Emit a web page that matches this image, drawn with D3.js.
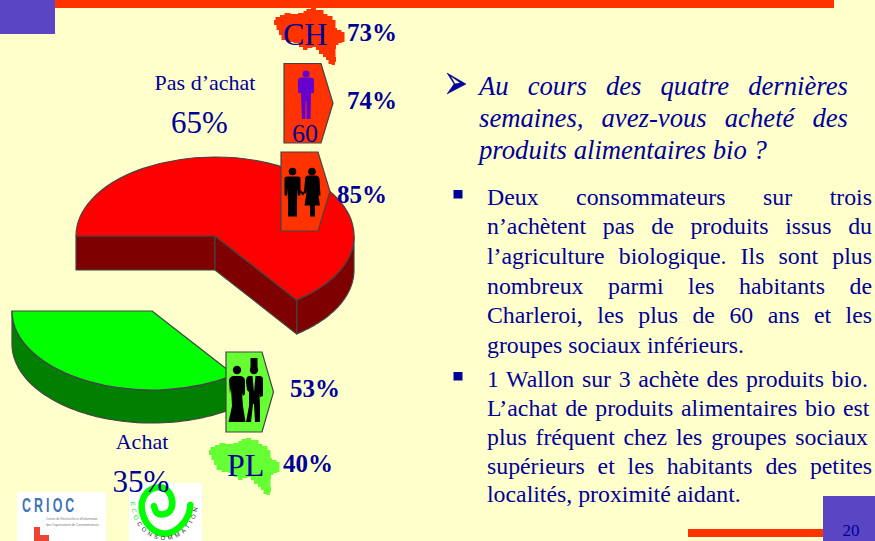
<!DOCTYPE html>
<html><head><meta charset="utf-8">
<script src="https://cdn.jsdelivr.net/npm/d3@7/dist/d3.min.js"></script>
<style>html,body{margin:0;padding:0;background:#FFFFCC;overflow:hidden}svg{display:block}text{font-family:"Liberation Serif",serif}</style>
</head><body>
<svg id="c" width="875" height="541"></svg>
<script>
// --- data ---
const sliceLabels = ["Pas d\u2019achat", "Achat"];
const sliceValues = [65, 35];
const sliceTexts = ["65%", "35%"];
const groupLabels = ["CH", "60", "", "", "PL"];
const groupTexts = ["73%", "74%", "85%", "53%", "40%"];
const titleLines = ["Au cours des quatre dernières", "semaines, avez-vous acheté des", "produits alimentaires bio ?"];
const bullet1Lines = ["Deux consommateurs sur trois", "n\u2019achètent pas de produits issus du", "l\u2019agriculture biologique. Ils sont plus", "nombreux parmi les habitants de", "Charleroi, les plus de 60 ans et les", "groupes sociaux inférieurs."];
const bullet2Lines = ["1 Wallon sur 3 achète des produits bio.", "L\u2019achat de produits alimentaires bio est", "plus fréquent chez les groupes sociaux", "supérieurs et les habitants des petites", "localités, proximité aidant."];
const pageNumber = "20";

const BLUE = "#000099", ORANGE = "#FF3300", LIME = "#66FF33", PURPLE = "#5A45C4", EDGE = "#444444";
const svg = d3.select("#c");
const add = (tag, attrs, parent = svg) => { const e = parent.append(tag); for (const k in attrs) e.attr(k, attrs[k]); return e; };
const label = (t, x, y, size, o = {}) => add("text", {x, y, "font-size": size, fill: o.fill || BLUE, "font-weight": o.weight || null, "font-style": o.style || null, "text-anchor": o.anchor || "start"}).text(t);

// slide frame
add("rect", {width: 875, height: 541, fill: "#FFFFCC"});
add("rect", {x: 55, y: 0, width: 779, height: 8, fill: ORANGE});
add("rect", {x: 0, y: 0, width: 55, height: 34, fill: PURPLE});
add("rect", {x: 688, y: 529, width: 136, height: 8, fill: ORANGE});
add("rect", {x: 823, y: 496, width: 52, height: 45, fill: PURPLE});
label(pageNumber, 851, 536, 17, {anchor: "middle"});

// exploded 3-D pie, from d3.pie
const pie = d3.pie().sort(null).startAngle(-Math.PI / 2).endAngle(Math.PI * 1.5)(sliceValues);
const discs = [
  {cx: 215, cy: 236, rx: 139, ry: 79, depth: 34, top: "#FF0000", side: "#7F0000"},
  {cx: 152, cy: 311, rx: 140, ry: 79, depth: 33, top: "#00FF00", side: "#007F00"}
];
const unitArc = d3.arc().innerRadius(0).outerRadius(1);
pie.forEach((p, i) => {
  const d = discs[i];
  const px = a => d.cx + d.rx * Math.sin(a), py = a => d.cy - d.ry * Math.cos(a);
  const g = add("g", {stroke: EDGE, "stroke-width": 1.2, "stroke-linejoin": "round"});
  const a0 = Math.max(p.startAngle, Math.PI / 2), a1 = Math.min(p.endAngle, Math.PI * 1.5);
  const arcAngles = d3.range(0, 61).map(k => a0 + (a1 - a0) * k / 60);
  const line = d3.line();
  const rim = arcAngles.map(a => [px(a), py(a)]).concat(arcAngles.slice().reverse().map(a => [px(a), py(a) + d.depth]));
  add("path", {d: line(rim) + "Z", fill: d.side}, g);
  if (i === 0) {
    [p.startAngle, p.endAngle].forEach(a => {
      add("path", {d: line([[d.cx, d.cy], [px(a), py(a)], [px(a), py(a) + d.depth], [d.cx, d.cy + d.depth]]) + "Z", fill: d.side}, g);
    });
  }
  add("path", {d: unitArc(p), fill: d.top, transform: `translate(${d.cx},${d.cy}) scale(${d.rx},${d.ry})`, "vector-effect": "non-scaling-stroke"}, g);
});

// slice labels
label(sliceLabels[0], 205, 90, 22, {anchor: "middle"});
label(sliceTexts[0], 199.5, 133, 31, {anchor: "middle"});
label(sliceLabels[1], 142, 449, 22, {anchor: "middle"});

// Belgium map glyph (local pixels, stair-stepped like the bitmap original)
const belgium = [[3,15],[8,12],[12,10],[17,8],[24,9],[32,8],[35,6],[38,4],[44,3],[48,5],[52,5],[55,9],[60,11],[65,15],[66,19],[65,23],[69,25],[74,27],[75,32],[74,37],[70,38],[67,40],[65,44],[66,48],[65,52],[67,57],[63,60],[60,59],[57,55],[55,52],[51,49],[47,45],[45,42],[40,43],[35,45],[31,42],[27,38],[20,37],[13,35],[10,30],[8,25],[5,20]];
const mapPath = d3.line().curve(d3.curveStep);
const mapClosed = mapPath(belgium.concat([belgium[0]])) + "Z";
add("path", {d: mapClosed, fill: ORANGE, transform: "translate(270,5)"});
add("path", {d: mapClosed, fill: LIME, transform: "translate(205,435)"});

// badges
const badgeShape = (x, y, w, h, tip) => [[x, y], [x + w, y], [x + w + tip, y + h / 2], [x + w, y + h], [x, y + h]];
const badges = [
  {s: badgeShape(284, 63.5, 37, 79.5, 12), f: ORANGE},
  {s: badgeShape(281, 152, 37, 79, 12), f: ORANGE},
  {s: badgeShape(226, 352, 36, 80, 11.5), f: LIME}
];
badges.forEach(b => add("path", {d: d3.line()(b.s) + "Z", fill: b.f, stroke: EDGE, "stroke-width": 1.2}));

// silhouettes (local pixels)
const manBody = "M-8,7 Q-8,5 -5,5 L5,5 Q8,5 8,7 L8,24 L5.5,24 L5,17 L4.5,30 L4.5,45 L-4.5,45 L-4.5,30 L-5,17 L-5.5,24 L-8,24Z";
const womanBody = "M-3.5,4 L3.5,4 Q7,4 7.5,8 L8.5,24 L6,24 L5,15 L8,34 L3,34 L3,45 L-2,45 L-2,34 L-7.5,34 L-4.5,15 L-6,22 L-8,21 L-7,8 Q-7,4 -3.5,4Z";
const longDress = "M-4,6 L4,6 Q8,7 8,11 L8,24 L6,26 L5,23 L6,36 L8.5,52 L-8.5,52 L-5,36 L-6,18 L-7,24 L-8,11 Q-8,7 -4,6Z";
const tallMan = "M-5,6 L5,6 Q9,6 9,9 L9,26 L6,27 L5.5,22 L6,38 L6,52 L1,52 L0,34 L-1,34 L-3,52 L-8,52 L-5,36 L-5,22 L-7,20 L-8,12 Q-8,6 -5,6Z";
function figure(x, y, body, fill, headR, hat) {
  const g = add("g", {transform: `translate(${x},${y})`, fill});
  add("circle", {cx: 0, cy: 0, r: headR}, g);
  add("path", {d: body}, g);
  if (hat) add("rect", {x: -3.5, y: -12, width: 7, height: 10}, g);
  return g;
}
// 60+ man
add("g", {transform: "translate(306,74)", fill: "#6600CC"}).call(g => {
  add("circle", {cx: 0, cy: 0, r: 3.6}, g);
  add("path", {d: "M-8,5 Q-7,3 -3,3.5 L3,3.5 Q7,3 8,5 L8,19 L5,19 L5,25 L4.5,45 L0.6,45 L0.4,27 L-0.4,27 L-0.6,45 L-4,45 L-4.8,25 L-5,19 L-8,19Z"}, g);
});
label(groupLabels[1], 292, 142, 26);
// couple
figure(292.5, 171.5, manBody, "#000", 3.8);
figure(312, 171.5, womanBody, "#000", 3.8);
add("path", {d: "M299,190 L303,194 L306,190", fill: "none", stroke: "#000", "stroke-width": 2});
// formal couple
figure(237, 370, longDress, "#000", 4.2);
figure(254, 370, tallMan, "#000", 4.2, true);
add("path", {d: "M252.5,376 L255.5,376 L254,392Z", fill: LIME});

// group percentages
label(groupLabels[0], 283, 45, 32);
label(groupLabels[4], 227, 476, 32);
[[347, 41], [347, 109], [337, 203], [290, 397], [283, 472]].forEach((pos, i) => label(groupTexts[i], pos[0], pos[1], 25, {weight: "bold"}));

// logos
add("rect", {x: 17, y: 492, width: 89, height: 49, fill: "#FFFFFF"});
add("rect", {x: 129, y: 483, width: 73, height: 58, fill: "#FFFFFF"});
add("text", {transform: "translate(22,512) scale(0.62,1)", "font-size": 20, "font-weight": "bold", "letter-spacing": 5, fill: "#3F74B5", style: "font-family:'Liberation Sans',sans-serif"}).text("CRIOC");
add("text", {x: 46, y: 520, "font-size": 3.1, fill: "#777", style: "font-family:'Liberation Sans',sans-serif"}).text("Centre de Recherche et d\u2019Information");
add("text", {x: 46, y: 526, "font-size": 3.1, fill: "#777", style: "font-family:'Liberation Sans',sans-serif"}).text("des Organisations de Consommateurs");
add("path", {d: "M34,527 H40 V535 H49 V541 H34Z", fill: "#EE4433"});
const spiral = [[154,506],[156.7,512.7],[163.3,514.3],[170,510.7],[172.3,501.7],[168.3,491.7],[160,487.3],[150,490],[143.3,498.3],[141.7,508.3],[146,521.7],[156.7,531.7],[168.3,533.3],[180,526.7],[188.3,515],[190.3,505]];
add("path", {d: d3.line().curve(d3.curveCatmullRom)(spiral), fill: "none", stroke: "#00FF00", "stroke-width": 6.5, "stroke-linecap": "round"});
add("path", {id: "ringPath", d: "M131,502 A33.5,38 0 0 0 198,502", fill: "none"});
const ring = add("text", {"font-size": 6, "letter-spacing": 3.1, style: "font-family:'Liberation Sans',sans-serif"});
const ringPath = ring.append("textPath").attr("href", "#ringPath");
ringPath.append("tspan").attr("fill", "#00DD00").text("ECO");
ringPath.append("tspan").attr("fill", "#222").text("CONSOMMATION");
label(sliceTexts[1], 141, 492, 31, {anchor: "middle"});

// justified commentary
function block(lines, x, rights, baselines, size, style) {
  lines.forEach((t, i) => {
    const e = label(t, x, baselines[i], size, {style});
    if (rights[i] !== null) {
      const n = t.split(" ").length - 1;
      const w = e.node().getComputedTextLength();
      e.attr("word-spacing", ((rights[i] - x - w) / n).toFixed(2));
    }
  });
}
block(titleLines, 479, [848, 848, null], [95, 127, 159], 26.7, "italic");
block(bullet1Lines, 487, [872, 872, 872, 872, 872, null], [205, 234, 264, 294, 323, 353], 23.8, null);
block(bullet2Lines, 487, [868, 869.5, 868, 872, null], [387, 416, 445, 474, 502], 23.8, null);
add("path", {d: "M447,73 L466,84 L447,94 L454,84Z", fill: BLUE, stroke: BLUE, "stroke-width": 0.5});
add("path", {d: "M451,76.5 L460,83 L455,83.5Z", fill: "#FFFFCC"});
add("rect", {x: 453.5, y: 190, width: 9, height: 8.5, fill: BLUE});
add("rect", {x: 453.5, y: 372, width: 9, height: 8.5, fill: BLUE});
</script>
</body></html>
